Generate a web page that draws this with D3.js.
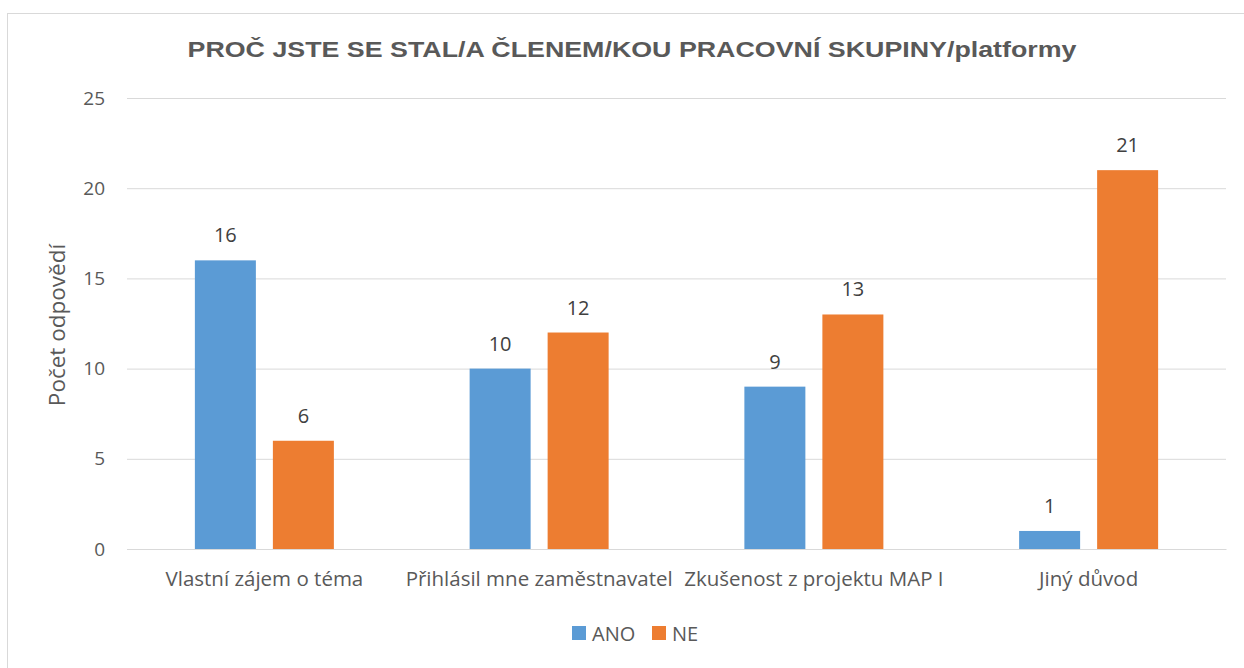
<!DOCTYPE html>
<html><head><meta charset="utf-8">
<script src="https://cdn.jsdelivr.net/npm/d3@7"></script>
<style>body{margin:0;background:#fff}svg{display:block}</style>
</head><body><svg id="c" width="1244" height="668"></svg>
<script>
const categories = ["Vlastní zájem o téma","Přihlásil mne zaměstnavatel","Zkušenost z projektu MAP I","Jiný důvod"];
const seriesNames = ["ANO","NE"];
const ano = [16,10,9,1];
const ne = [6,12,13,21];
const yTicks = [0,5,10,15,20,25];
const colors = ["#5B9BD5","#ED7D31"];
const font = "'Open Sans', sans-serif";

const svg = d3.select("#c");
svg.append("rect").attr("x",7.5).attr("y",13.5).attr("width",1250).attr("height",700)
  .attr("fill","#fff").attr("stroke","#d9d9d9");

const L=127,R=1226,T=98,B=549;
const x = d3.scaleBand().domain(categories).range([L,R]).padding(0);
const y = d3.scaleLinear().domain([0,25]).range([B,T]);
const xs = d3.scaleBand().domain(seriesNames).range([0,139]).paddingInner(0.218).paddingOuter(0);

svg.append("text").attr("x",632).attr("y",57).attr("text-anchor","middle")
  .attr("font-family","'Liberation Sans', Arial, sans-serif").attr("font-weight","bold")
  .attr("font-size",21.5).attr("fill","#595959")
  .attr("textLength",889).attr("lengthAdjust","spacingAndGlyphs")
  .text("PROČ JSTE SE STAL/A ČLENEM/KOU PRACOVNÍ SKUPINY/platformy");

const yAxis = d3.axisLeft(y).tickValues(yTicks).tickSize(-(R-L)).tickPadding(22);
const g = svg.append("g").attr("transform",`translate(${L},0)`).call(yAxis);
g.select(".domain").remove();
g.selectAll(".tick line").attr("stroke","#d9d9d9").attr("stroke-width",1);
g.selectAll(".tick text").attr("font-family",font).attr("font-size",19).attr("fill","#595959");

svg.append("text").attr("transform",`translate(65,325) rotate(-90)`).attr("text-anchor","middle")
  .attr("font-family",font).attr("font-size",22.5).attr("fill","#595959").text("Počet odpovědí");

const data = categories.map((c,i)=>({c, vals:[ano[i],ne[i]]}));
const grp = svg.selectAll("g.cat").data(data).join("g").attr("class","cat")
  .attr("transform",d=>`translate(${x(d.c)+x.bandwidth()/2-69.5},0)`);
grp.selectAll("rect").data(d=>d.vals.map((v,j)=>({s:seriesNames[j],v,j}))).join("rect")
  .attr("x",d=>xs(d.s)).attr("width",xs.bandwidth())
  .attr("y",d=>y(d.v)).attr("height",d=>B-y(d.v)).attr("fill",d=>colors[d.j]);
grp.selectAll("text.lbl").data(d=>d.vals.map((v,j)=>({s:seriesNames[j],v,j}))).join("text").attr("class","lbl")
  .attr("x",d=>xs(d.s)+xs.bandwidth()/2).attr("y",d=>y(d.v)-18).attr("text-anchor","middle")
  .attr("font-family",font).attr("font-size",20).attr("fill","#404040").text(d=>d.v);

const xAxis = d3.axisBottom(x).tickSize(0).tickPadding(22);
const gx = svg.append("g").attr("transform",`translate(0,${B})`).call(xAxis);
gx.select(".domain").attr("stroke","#d9d9d9");
gx.selectAll(".tick text").attr("font-family",font).attr("font-size",20.5).attr("fill","#595959");

const leg = svg.append("g");
const lx = [572,652];
seriesNames.forEach((s,i)=>{
  leg.append("rect").attr("x",lx[i]).attr("y",626).attr("width",14).attr("height",14).attr("fill",colors[i]);
  leg.append("text").attr("x",lx[i]+20).attr("y",641).attr("font-family",font).attr("font-size",20)
    .attr("fill","#595959").text(s);
});
</script></body></html>
